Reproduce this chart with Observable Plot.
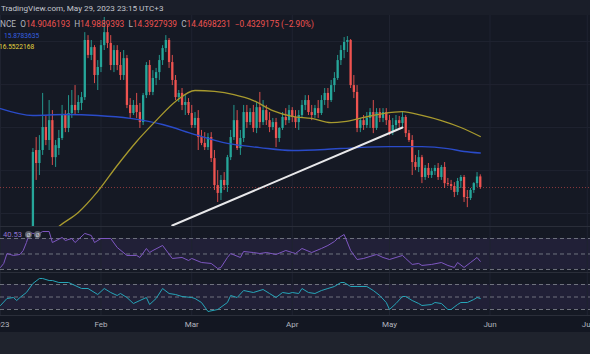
<!DOCTYPE html>
<html>
<head>
<meta charset="utf-8">
<script src="https://cdn.jsdelivr.net/npm/d3@7"></script>
<script src="https://cdn.jsdelivr.net/npm/@observablehq/plot@0.6"></script>
<style>
  html,body{margin:0;padding:0;background:#151924;}
  #chart{position:relative;width:590px;height:354px;overflow:hidden;background:#151924;font-family:Roboto,"Noto Sans",sans-serif;}
  .abs{position:absolute;left:0;}
  .txt{position:absolute;white-space:nowrap;font-size:8.1px;line-height:10px;}
  .lab{color:#b2b5be;}
  .red{color:#ef5350;}
  .icon{position:absolute;width:7px;height:7px;border-radius:50%;background:#5d606b;color:#d1d4dc;font-size:6px;line-height:7px;text-align:center;}
</style>
</head>
<body>
<div id="chart"></div>
<script>
// ---------- data ----------
const firstCandle = "2023-01-11", lastCandle = "2023-05-29";
const opens = [12.31,15.98,15.45,15.98,16.92,16.39,17.20,15.69,16.06,16.47,
 17.41,16.88,17.49,17.82,17.61,17.90,18.14,20.47,19.86,20.18,
 19.04,19.37,20.26,20.79,20.35,19.45,20.06,19.45,19.04,19.73,
 17.82,17.49,17.82,17.53,17.12,18.22,19.45,18.35,18.92,19.16,
 19.65,20.14,20.47,19.57,18.84,18.14,18.31,17.82,17.94,17.49,
 17.00,17.29,16.51,16.27,16.10,16.51,15.65,14.55,14.23,14.76,
 14.55,15.69,16.51,17.20,16.06,16.47,17.53,17.12,17.53,16.88,
 17.73,17.12,17.61,17.20,16.92,17.12,16.47,16.88,17.33,17.20,
 17.61,17.33,17.12,17.41,17.82,18.02,17.53,17.41,17.69,17.49,
 18.02,18.31,18.02,18.63,18.92,19.65,20.06,20.39,20.47,18.63,
 18.35,16.88,17.20,17.00,17.29,17.53,16.88,17.53,17.29,17.53,
 17.20,16.71,17.00,17.20,17.08,17.33,16.67,16.39,15.49,15.29,
 15.69,14.88,15.25,14.96,15.12,15.25,14.88,15.29,14.63,14.59,
 14.51,14.27,14.72,14.88,14.06,14.02,14.35,14.63,14.9046193];
const highs = [16.06,16.51,16.59,18.31,17.41,18.02,17.61,16.39,16.80,17.82,
 17.61,18.22,18.43,18.63,18.22,18.35,20.79,20.67,20.47,20.26,
 19.65,20.47,21.41,21.08,20.67,20.26,20.26,19.98,20.06,19.86,
 18.10,18.02,18.31,17.90,18.31,19.57,19.65,19.24,19.33,19.86,
 20.26,20.67,20.55,19.86,19.04,18.43,18.51,18.22,18.10,17.82,
 17.53,17.61,16.80,16.71,16.67,16.71,15.98,15.16,14.96,15.08,
 15.78,16.80,17.82,17.61,16.80,17.82,17.82,17.69,17.82,17.94,
 18.35,18.02,17.82,17.53,17.29,17.29,16.92,17.53,17.69,17.82,
 17.73,17.61,17.61,18.02,18.22,18.22,17.82,17.82,18.02,18.22,
 18.51,18.51,18.84,19.16,19.86,20.26,20.59,20.63,20.51,19.04,
 18.63,17.29,17.41,17.53,17.69,18.02,17.69,17.69,17.69,17.69,
 17.41,17.29,17.41,17.37,17.53,17.41,16.80,16.59,15.78,15.98,
 15.78,15.37,15.45,15.25,15.37,15.45,15.37,15.49,14.84,14.76,
 14.67,14.84,14.96,14.96,14.35,14.43,14.67,15.08,14.9889393];
const lows = [12.20,14.76,14.96,15.78,16.18,15.98,15.37,15.29,15.78,16.39,
 16.71,16.71,17.29,17.41,17.49,17.61,18.02,19.73,19.65,18.71,
 18.43,19.16,20.06,20.14,19.24,19.16,19.24,18.84,18.84,17.69,
 17.29,17.41,17.29,16.88,17.00,18.10,18.22,18.22,18.63,18.84,
 19.45,19.98,19.33,18.63,18.02,17.94,17.61,17.41,17.41,16.88,
 16.88,15.98,16.18,15.98,15.98,15.49,14.35,13.86,13.94,14.35,
 14.27,15.57,16.39,15.98,15.78,16.31,16.88,17.00,16.71,16.67,
 16.88,17.00,17.00,16.71,16.80,16.10,16.31,16.80,17.00,17.08,
 17.12,16.88,16.80,17.29,17.61,17.41,17.20,17.29,17.29,17.41,
 17.82,17.69,17.94,18.35,18.84,19.45,19.73,19.98,18.51,18.10,
 16.71,16.71,16.80,16.88,16.88,16.67,16.80,17.12,17.12,17.00,
 16.59,16.59,16.80,16.88,16.92,16.51,16.31,14.96,15.16,15.08,
 14.63,14.76,14.84,14.84,14.96,14.76,14.76,14.43,14.51,14.35,
 14.06,14.14,14.43,13.86,13.65,13.94,14.23,14.47,14.3927939];
const closes = [15.90,15.45,15.98,16.92,16.39,17.20,15.69,16.18,16.47,17.41,
 16.88,17.49,17.82,17.61,17.94,18.14,20.47,19.86,20.18,19.04,
 19.37,20.26,20.79,20.35,19.45,20.06,19.45,19.04,19.73,17.82,
 17.49,17.82,17.53,17.12,18.22,19.45,18.35,18.92,19.16,19.65,
 20.14,20.47,19.57,18.84,18.14,18.31,17.82,17.94,17.49,17.00,
 17.29,16.51,16.27,16.10,16.51,15.65,14.55,14.23,14.76,14.55,
 15.69,16.51,17.20,16.06,16.47,17.53,17.12,17.53,16.88,17.73,
 17.12,17.61,17.20,16.92,17.12,16.47,16.88,17.33,17.20,17.61,
 17.33,17.12,17.41,17.82,18.02,17.53,17.41,17.69,17.49,18.02,
 18.31,18.02,18.63,18.92,19.65,20.06,20.39,20.47,18.63,18.35,
 16.88,17.20,17.00,17.29,17.53,16.88,17.53,17.29,17.53,17.20,
 16.71,17.00,17.20,17.08,17.33,16.67,16.39,15.49,15.29,15.69,
 14.88,15.25,14.96,15.12,15.25,14.88,15.29,14.63,14.59,14.51,
 14.27,14.72,14.88,14.06,14.02,14.35,14.63,14.90,14.4698231];

const ma1Dates = ["2023-01-01","2023-01-11","2023-01-21","2023-01-31","2023-02-10","2023-02-20","2023-03-02","2023-03-12","2023-03-22","2023-04-01","2023-04-11","2023-04-21","2023-05-01","2023-05-11","2023-05-19","2023-05-24","2023-05-29"];
const ma1Values = [17.69,17.41,17.45,17.41,17.29,17.04,16.63,16.27,16.10,15.98,16.02,16.10,16.14,16.14,16.06,15.94,15.8783635];
const ma2Dates = ["2023-01-17","2023-01-19","2023-01-25","2023-01-31","2023-02-06","2023-02-12","2023-02-18","2023-02-24","2023-03-02","2023-03-08","2023-03-14","2023-03-20","2023-03-26","2023-04-01","2023-04-07","2023-04-13","2023-04-17","2023-04-23","2023-04-29","2023-05-05","2023-05-11","2023-05-17","2023-05-23","2023-05-29"];
const ma2Values = [12.63,12.88,13.45,14.31,15.37,16.35,17.20,17.98,18.43,18.39,18.26,18.02,17.61,17.37,17.29,17.12,17.16,17.33,17.49,17.57,17.41,17.20,16.92,16.5522168];

const trendDates = ["2023-02-23","2023-05-05"];
const trendValues = [12.92,16.92];

const rsiDates = ["2023-01-01","2023-01-02","2023-01-03","2023-01-05","2023-01-07","2023-01-08","2023-01-09","2023-01-10","2023-01-11","2023-01-13","2023-01-14","2023-01-16","2023-01-17","2023-01-20","2023-01-21","2023-01-23","2023-01-24","2023-01-27","2023-01-29","2023-01-30","2023-02-01","2023-02-04","2023-02-06","2023-02-09","2023-02-12","2023-02-13","2023-02-15","2023-02-16","2023-02-17","2023-02-20","2023-02-23","2023-02-26","2023-02-28","2023-03-01","2023-03-04","2023-03-07","2023-03-09","2023-03-10","2023-03-12","2023-03-13","2023-03-16","2023-03-17","2023-03-20","2023-03-22","2023-03-24","2023-03-27","2023-03-30","2023-04-01","2023-04-02","2023-04-04","2023-04-07","2023-04-10","2023-04-12","2023-04-14","2023-04-15","2023-04-17","2023-04-19","2023-04-21","2023-04-23","2023-04-25","2023-04-27","2023-04-29","2023-05-01","2023-05-03","2023-05-05","2023-05-06","2023-05-08","2023-05-10","2023-05-11","2023-05-14","2023-05-17","2023-05-19","2023-05-21","2023-05-22","2023-05-24","2023-05-26","2023-05-28","2023-05-29"];
const rsiValues = [32.6,37.8,50.6,48.1,49.4,54.5,64.8,77.7,76.5,76.5,79.0,79.0,64.8,71.3,67.4,70.0,64.8,76.5,73.9,64.8,70.0,70.0,58.4,48.1,48.1,45.5,57.1,51.9,54.5,61.0,44.2,45.5,41.6,44.2,39.0,37.8,31.3,32.6,45.5,50.6,45.5,53.2,51.9,50.6,51.9,49.4,54.5,51.9,50.6,57.1,51.9,57.1,61.0,66.1,70.0,75.2,54.5,42.9,44.2,46.8,49.4,45.5,42.9,45.5,48.1,44.2,36.5,37.8,35.2,36.5,39.0,35.2,32.6,39.0,32.6,39.0,45.5,40.53];

const oscDates = ["2023-01-01","2023-01-03","2023-01-05","2023-01-06","2023-01-07","2023-01-09","2023-01-11","2023-01-13","2023-01-14","2023-01-16","2023-01-17","2023-01-19","2023-01-22","2023-01-24","2023-01-26","2023-01-28","2023-01-31","2023-02-02","2023-02-04","2023-02-06","2023-02-07","2023-02-09","2023-02-11","2023-02-13","2023-02-15","2023-02-16","2023-02-18","2023-02-20","2023-02-22","2023-02-24","2023-02-26","2023-03-01","2023-03-02","2023-03-04","2023-03-06","2023-03-09","2023-03-12","2023-03-13","2023-03-15","2023-03-17","2023-03-20","2023-03-23","2023-03-25","2023-03-27","2023-03-29","2023-03-31","2023-04-01","2023-04-03","2023-04-04","2023-04-06","2023-04-08","2023-04-10","2023-04-12","2023-04-14","2023-04-16","2023-04-17","2023-04-19","2023-04-21","2023-04-24","2023-04-26","2023-04-28","2023-04-30","2023-05-01","2023-05-03","2023-05-05","2023-05-06","2023-05-08","2023-05-10","2023-05-11","2023-05-14","2023-05-15","2023-05-17","2023-05-19","2023-05-20","2023-05-22","2023-05-23","2023-05-25","2023-05-27","2023-05-28","2023-05-29"];
const oscValues = [36.4,47.6,49.2,44.4,49.2,57.2,71.6,79.6,79.6,76.4,76.4,73.2,73.2,68.4,63.6,63.6,54.0,63.6,57.2,52.4,55.6,49.2,39.6,44.4,49.2,38.0,47.6,63.6,55.6,54.0,50.8,49.2,47.6,41.2,26.8,30.0,41.2,52.4,49.2,60.4,57.2,62.0,55.6,49.2,57.2,55.6,57.2,55.6,63.6,57.2,55.6,60.4,63.6,66.8,73.2,73.2,66.8,66.8,66.8,60.4,52.4,41.2,30.0,39.6,50.8,50.8,44.4,39.6,36.4,38.0,41.2,39.6,30.0,30.0,38.0,41.2,41.2,46.0,49.2,47.6];

const bandLevels = [70, 50, 30];
const priceGrid = [20.43, 18.67, 16.92, 15.16, 13.41];
const monthTicks = ["2023-01-01","2023-02-01","2023-03-01","2023-04-01","2023-05-01","2023-06-01","2023-07-01"];
const monthLabels = ["2023","Feb","Mar","Apr","May","Jun","Jul"];
const lastPrice = 14.4698231;

// ---------- build tables ----------
const parse = s => new Date(s);
const candleDays = d3.utcDay.range(parse(firstCandle), d3.utcDay.offset(parse(lastCandle), 1));
const candles = candleDays.map((d, i) => ({date: d, open: opens[i], high: highs[i], low: lows[i], close: closes[i]}));
const ma1 = ma1Dates.map((d, i) => ({date: parse(d), v: ma1Values[i]}));
const ma2 = ma2Dates.map((d, i) => ({date: parse(d), v: ma2Values[i]}));
const trend = trendDates.map((d, i) => ({date: parse(d), v: trendValues[i]}));
const rsi = rsiDates.map((d, i) => ({date: parse(d), v: rsiValues[i]}));
const osc = oscDates.map((d, i) => ({date: parse(d), v: oscValues[i]}));
const months = monthTicks.map((d, i) => ({date: parse(d), label: monthLabels[i]}));

const UP = "#26a69a", DOWN = "#ef5350", GRID = "#1f2330";
const xScale = {type: "utc", domain: [parse("2023-01-01"), parse("2023-07-02")], axis: null};
const col = d => d.close >= d.open ? UP : DOWN;

const root = document.getElementById("chart");
function place(node, top, h, bg) {
  const div = document.createElement("div");
  div.className = "abs";
  div.style.top = top + "px";
  div.style.height = h + "px";
  div.style.width = "590px";
  if (bg) div.style.background = bg;
  if (node) div.appendChild(node);
  root.appendChild(div);
  return div;
}
const baseStyle = {background: "transparent", overflow: "hidden", fontFamily: "Roboto, sans-serif"};

// header band
place(null, 0, 15, "#1a1e29");

// main price pane
const mainPlot = Plot.plot({
  width: 590, height: 211, margin: 0, style: baseStyle,
  x: xScale,
  y: {domain: [12.88, 21.49], axis: null},
  marks: [
    Plot.ruleY(priceGrid, {stroke: GRID}),
    Plot.ruleX(months, {x: "date", stroke: GRID}),
    Plot.ruleY([lastPrice], {stroke: "#ef5350", strokeOpacity: 0.55, strokeDasharray: "1,2"}),
    Plot.ruleX(candles, {x: "date", y1: "low", y2: "high", stroke: col, strokeWidth: 0.9, clip: true}),
    Plot.ruleX(candles, {x: "date", y1: "open", y2: "close", stroke: col, strokeWidth: 2.3, clip: true}),
    Plot.line(ma1, {x: "date", y: "v", stroke: "#2a4bc9", strokeWidth: 1.4, curve: "monotone-x", clip: true}),
    Plot.line(ma2, {x: "date", y: "v", stroke: "#a89a2e", strokeWidth: 1.3, curve: "monotone-x", clip: true}),
    Plot.line(trend, {x: "date", y: "v", stroke: "#e8e8ea", strokeWidth: 2, clip: true})
  ]
});
place(mainPlot, 15, 211);

// separators
place(null, 226, 1, "#2a2e39");

// RSI pane
const rsiPlot = Plot.plot({
  width: 590, height: 45, margin: 0, style: baseStyle,
  x: xScale,
  y: {domain: [26.1, 84.2], axis: null},
  marks: [
    Plot.rectY([{lo: 30, hi: 70}], {y1: "lo", y2: "hi", fill: "#7e57c2", fillOpacity: 0.12}),
    Plot.ruleX(months, {x: "date", stroke: GRID}),
    Plot.ruleY(bandLevels, {stroke: "#787b86", strokeDasharray: "4,3", strokeOpacity: 0.9}),
    Plot.line(rsi, {x: "date", y: "v", stroke: "#7e57c2", strokeWidth: 1, clip: true})
  ]
});
place(rsiPlot, 227, 45);
place(null, 272, 1, "#2a2e39");

// second oscillator pane
const oscPlot = Plot.plot({
  width: 590, height: 42, margin: 0, style: baseStyle,
  x: xScale,
  y: {domain: [20.4, 87.6], axis: null},
  marks: [
    Plot.rectY([{lo: 30, hi: 70}], {y1: "lo", y2: "hi", fill: "#7e57c2", fillOpacity: 0.12}),
    Plot.ruleX(months, {x: "date", stroke: GRID}),
    Plot.ruleY(bandLevels, {stroke: "#787b86", strokeDasharray: "4,3", strokeOpacity: 0.9}),
    Plot.line(osc, {x: "date", y: "v", stroke: "#26a5b8", strokeWidth: 1, clip: true})
  ]
});
place(oscPlot, 273, 42);
place(null, 315, 1, "#2a2e39");

// time axis
const axisPlot = Plot.plot({
  width: 590, height: 16, margin: 0, style: baseStyle,
  x: xScale,
  marks: [
    Plot.text(months, {x: "date", text: "label", frameAnchor: "middle", fill: "#b2b5be", fontSize: 8})
  ]
});
place(axisPlot, 316, 16, "#131722");
place(null, 332, 22, "#1f232d");

// legends / header texts
function txt(html, left, top, color, size) {
  const s = document.createElement("div");
  s.className = "txt";
  s.style.left = left + "px";
  s.style.top = top + "px";
  if (color) s.style.color = color;
  if (size) s.style.fontSize = size + "px";
  s.innerHTML = html;
  root.appendChild(s);
  return s;
}
txt("TradingView.com, May 29, 2023 23:15 UTC+3", 1, 3, "#c3c6ce", 8.1);
txt('<span class="lab">NCE</span>&nbsp; <span class="lab">O</span><span class="red">14.9046193</span>&nbsp; <span class="lab">H</span><span class="red">14.9889393</span>&nbsp; <span class="lab">L</span><span class="red">14.3927939</span>&nbsp; <span class="lab">C</span><span class="red">14.4698231</span>&nbsp; <span class="red">−0.4329175 (−2.90%)</span>', 0, 19, null, 8.3);
txt("15.8783635", 4, 31, "#3560e0", 6.6);
txt("16.5522168", -1, 42, "#e3d33f", 6.6);
txt("40.53", 3, 230, "#8f72d0", 7.6);
const ic1 = document.createElement("div"); ic1.className = "icon"; ic1.style.left = "25px"; ic1.style.top = "231px"; ic1.textContent = "Ø"; root.appendChild(ic1);
const ic2 = document.createElement("div"); ic2.className = "icon"; ic2.style.left = "34px"; ic2.style.top = "231px"; ic2.textContent = "Ø"; root.appendChild(ic2);
</script>
</body>
</html>
